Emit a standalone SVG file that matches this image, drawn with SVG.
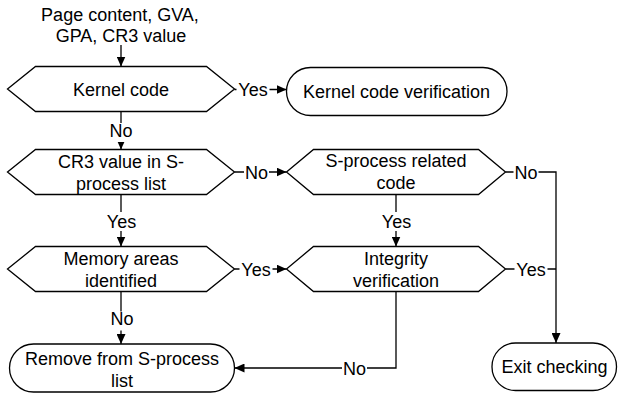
<svg xmlns="http://www.w3.org/2000/svg" width="618" height="398" viewBox="0 0 618 398">
  <defs>
    <style>
      text { font-family: "Liberation Sans", Arial, sans-serif; font-size: 18px; fill: #000; text-anchor: middle; }
      .shape { fill: #fff; stroke: #000; stroke-width: 1.3; }
      .conn { fill: none; stroke: #000; stroke-width: 1.3; }
      .lblbg { fill: #fff; stroke: none; }
    </style>
    <marker id="arrow" markerUnits="userSpaceOnUse" markerWidth="10" markerHeight="9" refX="10" refY="4.5" orient="auto">
      <path d="M0,0 L10,4.5 L0,9 z" fill="#000"/>
    </marker>
  </defs>
  <rect width="618" height="398" fill="#fff"/>

  <g id="connectors">
    <path class="conn" d="M121,45 L121,66.5" marker-end="url(#arrow)"/>
    <path class="conn" d="M234.5,89.5 L286.5,89.5" marker-end="url(#arrow)"/>
    <path class="conn" d="M121,111.5 L121,149.5" marker-end="url(#arrow)"/>
    <path class="conn" d="M234.5,172 L286.5,172" marker-end="url(#arrow)"/>
    <path class="conn" d="M121,194.5 L121,246.5" marker-end="url(#arrow)"/>
    <path class="conn" d="M396,194.5 L396,246.5" marker-end="url(#arrow)"/>
    <path class="conn" d="M505.5,172 L556,172 L556,343" marker-end="url(#arrow)"/>
    <path class="conn" d="M505.5,269 L556,269"/>
    <path class="conn" d="M234.5,269 L286.5,269" marker-end="url(#arrow)"/>
    <path class="conn" d="M121,291.5 L121,344" marker-end="url(#arrow)"/>
    <path class="conn" d="M396,291.5 L396,368 L234.5,368" marker-end="url(#arrow)"/>

    <g id="labels">
      <rect class="lblbg" x="236.5" y="81.5" width="33" height="17"/>
      <text x="253" y="96">Yes</text>
      <rect class="lblbg" x="244" y="164" width="25" height="17"/>
      <text x="256.5" y="178.5">No</text>
      <rect class="lblbg" x="239.5" y="261" width="33" height="17"/>
      <text x="256" y="275.5">Yes</text>
      <rect class="lblbg" x="513.5" y="164" width="25" height="17"/>
      <text x="526" y="178.5">No</text>
      <rect class="lblbg" x="514.5" y="261" width="33" height="17"/>
      <text x="531" y="275.5">Yes</text>
      <rect class="lblbg" x="108.5" y="123" width="25" height="19"/>
      <text x="121" y="137">No</text>
      <rect class="lblbg" x="105" y="212" width="33" height="19"/>
      <text x="121.5" y="228">Yes</text>
      <rect class="lblbg" x="380" y="212" width="33" height="19"/>
      <text x="396.5" y="227.5">Yes</text>
      <rect class="lblbg" x="109.5" y="311.5" width="25" height="19"/>
      <text x="122" y="325">No</text>
      <rect class="lblbg" x="342" y="360" width="25" height="17"/>
      <text x="354.5" y="374.5">No</text>
    </g>
  </g>

  <g id="input">
    <text x="120" y="21">Page content, GVA,</text>
    <text x="121" y="42">GPA, CR3 value</text>
  </g>

  <g id="kernel-code">
    <polygon class="shape" points="7.5,89 35.5,66.5 206.5,66.5 234.5,89 206.5,111.5 35.5,111.5"/>
    <text x="121" y="95.5">Kernel code</text>
  </g>

  <g id="kernel-code-verification">
    <rect class="shape" x="286.5" y="67.5" width="220.5" height="48" rx="24" ry="24"/>
    <text x="396.5" y="98">Kernel code verification</text>
  </g>

  <g id="cr3-in-list">
    <polygon class="shape" points="7.5,172 35.5,149.5 206.5,149.5 234.5,172 206.5,194.5 35.5,194.5"/>
    <text x="121" y="168">CR3 value in S-</text>
    <text x="121" y="189.5">process list</text>
  </g>

  <g id="s-process-related">
    <polygon class="shape" points="286.5,172 313.5,149.5 478.5,149.5 505.5,172 478.5,194.5 313.5,194.5"/>
    <text x="396" y="167">S-process related</text>
    <text x="396" y="188.5">code</text>
  </g>

  <g id="memory-areas">
    <polygon class="shape" points="7.5,269 35.5,246.5 206.5,246.5 234.5,269 206.5,291.5 35.5,291.5"/>
    <text x="121" y="265">Memory areas</text>
    <text x="121" y="286.5">identified</text>
  </g>

  <g id="integrity">
    <polygon class="shape" points="286.5,269 313.5,246.5 478.5,246.5 505.5,269 478.5,291.5 313.5,291.5"/>
    <text x="396" y="265">Integrity</text>
    <text x="396" y="286.5">verification</text>
  </g>

  <g id="remove">
    <rect class="shape" x="9.5" y="344" width="225" height="48" rx="24" ry="24"/>
    <text x="122" y="365">Remove from S-process</text>
    <text x="122" y="386.5">list</text>
  </g>

  <g id="exit">
    <rect class="shape" x="492" y="343" width="124.5" height="47.5" rx="23.5" ry="23.5"/>
    <text x="554.5" y="373">Exit checking</text>
  </g>
</svg>
